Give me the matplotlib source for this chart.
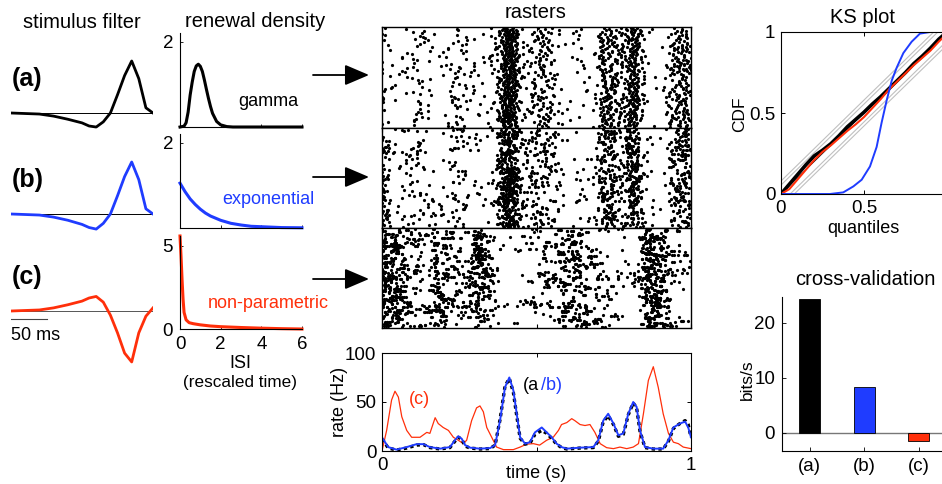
import numpy as np
import matplotlib
matplotlib.use('Agg')
import matplotlib.pyplot as plt

plt.rcParams['font.family'] = ['Liberation Sans', 'DejaVu Sans']

W, H = 942, 484
fig = plt.figure(figsize=(9.42, 4.84), dpi=100)
BLUE = '#1f3cff'
RED = '#ff2f0a'
FS_T, FS_TK, FS_L = 14.5, 13.5, 13

# ---------------- data ----------------
# stimulus filters (ms, arbitrary units)
filt_t = [0, 20, 40, 60, 80, 100, 110, 120, 130, 140, 150, 160, 170, 180, 190, 200]
filt_a = [0, -0.01, -0.02, -0.06, -0.12, -0.19, -0.25, -0.27, -0.17, 0.0, 0.35, 0.72, 1.0, 0.66, 0.10, 0.0]
filt_b = [0, -0.01, -0.02, -0.06, -0.12, -0.20, -0.26, -0.29, -0.18, 0.0, 0.35, 0.72, 1.0, 0.66, 0.10, 0.0]
filt_c = [0, 0.01, 0.02, 0.06, 0.12, 0.19, 0.25, 0.28, 0.17, -0.08, -0.42, -0.81, -0.98, -0.42, -0.10, 0.06]
scalebar_ms = 50

# renewal densities (ISI in rescaled time)
gam_x = [0, 0.2, 0.3, 0.4, 0.5, 0.6, 0.7, 0.8, 0.9, 1.0, 1.1, 1.2, 1.3, 1.4, 1.5, 1.6, 1.8, 2.0, 2.3, 2.6, 3, 4, 5, 6]
gam_f = [0, 0.02, 0.1, 0.35, 0.75, 1.05, 1.3, 1.43, 1.47, 1.42, 1.3, 1.1, 0.88, 0.67, 0.48, 0.32, 0.13, 0.05, 0.01, 0, 0, 0, 0, 0]
exp_x = [0, 0.25, 0.5, 0.75, 1, 1.25, 1.5, 2, 2.5, 3, 3.5, 4, 5, 6]
exp_f = [1.05, 0.85, 0.68, 0.55, 0.44, 0.35, 0.28, 0.18, 0.11, 0.07, 0.04, 0.03, 0.01, 0.005]
np_x = [0, 0.05, 0.1, 0.15, 0.2, 0.3, 0.45, 0.65, 1.0, 1.5, 2, 3, 4, 5, 6]
np_f = [5.6, 4.4, 3.0, 1.8, 1.0, 0.55, 0.38, 0.32, 0.25, 0.18, 0.14, 0.09, 0.05, 0.02, 0.0]

# predicted rates (s, Hz)
t_c = [0, 0.015, 0.031, 0.042, 0.053, 0.064, 0.08, 0.096, 0.123, 0.145, 0.155, 0.172, 0.182, 0.198,
       0.215, 0.231, 0.247, 0.263, 0.274, 0.29, 0.306, 0.317, 0.328, 0.339, 0.355, 0.371, 0.393, 0.425,
       0.447, 0.468, 0.49, 0.51, 0.533, 0.554, 0.571, 0.581, 0.598, 0.614, 0.624, 0.641, 0.657, 0.673,
       0.689, 0.706, 0.727, 0.749, 0.77, 0.792, 0.813, 0.83, 0.846, 0.862, 0.878, 0.894, 0.91, 0.927,
       0.943, 0.959, 0.975, 1.0]
r_c = [0, 21, 52, 61, 55, 35, 21, 14, 14, 19, 18, 34, 28, 24, 21, 14, 11, 7.5, 11, 31, 44, 46, 40, 24,
       14, 4, 1.4, 1.4, 4, 7, 7.5, 6, 11, 14, 21, 27, 29, 33, 31, 27, 26, 27, 19, 7.5, 3.4, 2.4, 4, 2.4,
       4, 7.5, 38, 72, 86, 65, 38, 18, 9, 7.5, 4, 2.4]
t_ab = [0, 0.01, 0.02, 0.047, 0.08, 0.112, 0.134, 0.155, 0.188, 0.22, 0.236, 0.247, 0.258, 0.269, 0.285,
        0.317, 0.35, 0.366, 0.382, 0.398, 0.412, 0.425, 0.436, 0.447, 0.463, 0.479, 0.495, 0.517, 0.533,
        0.549, 0.565, 0.581, 0.598, 0.641, 0.684, 0.7, 0.716, 0.732, 0.749, 0.765, 0.781, 0.797, 0.813,
        0.824, 0.835, 0.851, 0.878, 0.91, 0.927, 0.943, 0.964, 0.981, 0.991, 1.0]
r_b = [14, 9, 4, 1.4, 4, 7, 7, 4, 2.4, 4, 11, 15, 12.5, 6, 3.4, 2.4, 3, 6, 31, 65, 75, 62, 38, 14, 7.5,
       9, 19, 24, 19, 14, 7.5, 4, 2.4, 3.4, 4, 11, 31, 38, 28, 16, 18, 38, 50, 45, 21, 4, 2.4, 2.4, 11,
       24, 28, 30, 24, 14]
r_a = [12, 8, 3, 1, 3, 6, 6.5, 3.5, 2, 3.5, 10, 14, 12, 5, 3, 2, 2.5, 6, 32, 66, 74, 60, 36, 13, 7,
       8, 17, 21, 18, 13, 7, 3.5, 2, 3, 3.5, 10, 30, 36, 27, 15, 17, 37, 49, 44, 20, 3.5, 2, 2, 10,
       23, 28, 31, 27, 14]

# KS plot
ks_q = [0, .05, .1, .15, .2, .25, .3, .35, .4, .45, .5, .55, .6, .65, .7, .75, .8, .85, .9, .95, 1]
ks_a = [0, .06, .12, .18, .235, .27, .31, .36, .415, .46, .505, .555, .60, .65, .70, .75, .805, .85, .90, .955, 1.0]
ks_c = [0, .03, .09, .15, .21, .26, .30, .345, .39, .43, .475, .53, .585, .645, .695, .745, .795, .84, .885, .94, .99]
ks_bq = [0, 0.295, 0.375, 0.436, 0.486, 0.536, 0.576, 0.606, 0.637, 0.667, 0.697, 0.737, 0.787, 0.837, 0.898, 0.918]
ks_b = [0, 0, 0.01, 0.047, 0.088, 0.17, 0.29, 0.44, 0.58, 0.70, 0.78, 0.87, 0.94, 0.99, 1.0, 1.0]
ks_bands = [0.055, 0.08]

# cross-validation
cv_labels = ['(a)', '(b)', '(c)']
cv_vals = [24.4, 8.4, -1.5]
cv_colors = ['black', BLUE, RED]

n_trials = 100


def pax(x0, y0, x1, y1):
    return fig.add_axes([x0 / W, 1 - y1 / H, (x1 - x0) / W, (y1 - y0) / H])


def ftext(x, y, s, **kw):
    fig.text(x / W, 1 - y / H, s, **kw)


# ---------------- stimulus filters ----------------
ftext(81.5, 28, 'stimulus filter', ha='center', va='baseline', fontsize=FS_T)
for vals, base, col, bcol, lab in [(filt_a, 113, 'black', 'black', '(a)'),
                                   (filt_b, 214, BLUE, 'black', '(b)'),
                                   (filt_c, 311, RED, '#555555', '(c)')]:
    ax = pax(11, base - 62, 153, base + 55)
    ax.set_xlim(0, 200)
    ax.set_ylim(-55 / 52, 62 / 52)
    ax.axhline(0, color=bcol, lw=0.7)
    ax.plot(filt_t, vals, color=col, lw=2.0)
    ax.axis('off')
    ftext(12, base - 34, lab, ha='left', va='center', fontsize=18, fontweight='bold')
    if lab == '(c)':
        ax.plot([0, scalebar_ms], [-0.154, -0.154], color='#444444', lw=0.8)
        ax.text(0, -0.30, f'{scalebar_ms} ms', ha='left', va='top', fontsize=FS_L)

# ---------------- renewal densities ----------------
ftext(255, 27, 'renewal density', ha='center', va='baseline', fontsize=FS_T)
ren = [(gam_x, gam_f, 'black', (33, 127), 2.2, [2], 'gamma', 102),
       (exp_x, exp_f, BLUE, (134, 228), 2.2, [2], 'exponential', 200),
       (np_x, np_f, RED, (236, 329), 5.6, [0, 5], 'non-parametric', 303)]
for i, (x, f, col, (y0, y1), ytop, yt, name, ly) in enumerate(ren):
    ax = pax(180, y0, 302, y1)
    ax.set_xlim(0, 6)
    ax.set_ylim(0, ytop)
    ax.plot(x, f, color=col, lw=2.2, clip_on=False)
    for s in ['top', 'right']:
        ax.spines[s].set_visible(False)
    for s in ['left', 'bottom']:
        ax.spines[s].set_linewidth(0.8)
    ax.set_yticks(yt)
    ax.set_xticks([0, 2, 4, 6])
    ax.tick_params(direction='in', length=2.5, width=0.6, labelsize=FS_TK, pad=5)
    if i < 2:
        ax.set_xticklabels([])
    ax.patch.set_visible(False)
    ftext(268, ly, name, ha='center', va='center', fontsize=FS_L, color=col)
ftext(240, 364, 'ISI', ha='center', va='center', fontsize=FS_L)
ftext(240, 383, '(rescaled time)', ha='center', va='center', fontsize=12.3)

# arrows
for y in [75, 177, 279]:
    fig.add_artist(matplotlib.patches.FancyArrowPatch(
        (313 / W, 1 - y / H), (369 / W, 1 - y / H), transform=fig.transFigure,
        arrowstyle='-|>,head_length=0.75,head_width=0.32', mutation_scale=20,
        color='black', lw=1.3, shrinkA=0, shrinkB=0))


# ---------------- rasters ----------------
def hash_u(n):
    """Deterministic hash of an integer index into [0, 1)."""
    v = np.sin(n * 12.9898 + 4.1414) * 43758.5453
    return v - np.floor(v)


def raster_spikes(t_rate, r_rate, isi_x, isi_f, ntr, offset):
    """Spike trains by time-rescaling of the rate, ISIs from the tabulated renewal density."""
    tg = np.linspace(0, 1, 4001)
    lam = np.interp(tg, t_rate, r_rate)
    Lam = np.concatenate([[0], np.cumsum((lam[1:] + lam[:-1]) / 2 * np.diff(tg))])
    x = np.asarray(isi_x, float)
    f = np.asarray(isi_f, float) + 1e-4
    cdf = np.concatenate([[0], np.cumsum((f[1:] + f[:-1]) / 2 * np.diff(x))])
    cdf = cdf / cdf[-1]
    mean = np.trapezoid(x * f, x) / np.trapezoid(f, x)
    ts, tr = [], []
    n = offset
    for j in range(ntr):
        n += 1
        s = hash_u(n) * np.interp(hash_u(n + 0.5), cdf, x) / mean
        while s < Lam[-1]:
            ts.append(np.interp(s, Lam, tg))
            tr.append(j + 1)
            n += 1
            s += np.interp(hash_u(n), cdf, x) / mean
    return np.array(ts), np.array(tr)


ftext(536, 18, 'rasters', ha='center', va='baseline', fontsize=FS_T)
rboxes = [(27, 128), (128, 228), (228, 328)]
rsets = [(t_ab, r_a, gam_x, gam_f), (t_ab, r_b, exp_x, exp_f), (t_c, r_c, np_x, np_f)]
for k, ((y0, y1), (tt, rr, ix, iff)) in enumerate(zip(rboxes, rsets)):
    ax = pax(382, y0, 691, y1)
    st, sr = raster_spikes(tt, rr, ix, iff, n_trials, 1000 + 7919 * k)
    ax.plot(st, sr, 'o', ms=2.3, mew=0, color='black')
    ax.set_xlim(0, 1)
    ax.set_ylim(0, n_trials + 1)
    ax.set_xticks([0, 0.5, 1])
    ax.set_yticks([])
    ax.set_xticklabels([])
    ax.tick_params(direction='in', length=3, width=0.8, top=True)
    for s in ax.spines.values():
        s.set_linewidth(1.0)

# ---------------- rate plot ----------------
ax = pax(382, 353, 691, 451)
ax.plot(t_c, r_c, color=RED, lw=0.9)
ax.plot(t_ab, r_a, color='black', lw=2.4, ls=(0, (1, 1)))
ax.plot(t_ab, r_b, color=BLUE, lw=1.4)
ax.set_xlim(0, 1)
ax.set_ylim(0, 100)
ax.set_xticks([0, 0.5, 1])
ax.set_xticklabels(['0', '', '1'])
ax.set_yticks([0, 50, 100])
ax.tick_params(direction='in', length=3, width=0.7, top=True, right=True, labelsize=FS_TK, pad=4)
for s in ax.spines.values():
    s.set_linewidth(0.8)
ftext(536, 473, 'time (s)', ha='center', va='center', fontsize=FS_L)
ftext(340, 402, 'rate (Hz)', ha='center', va='center', rotation=90, fontsize=FS_L)
ftext(539, 385, '(a', ha='right', va='center', fontsize=FS_L)
ftext(541, 385, '/b)', ha='left', va='center', fontsize=FS_L, color=BLUE)
ftext(419, 400, '(c)', ha='center', va='center', fontsize=FS_L, color=RED)

# ---------------- KS plot ----------------
ftext(863, 23, 'KS plot', ha='center', va='baseline', fontsize=FS_T)
ax = pax(781, 32, 947, 194)
qq = np.array([0, 1])
for b in ks_bands:
    ax.plot(qq, qq + b, color='#c0c0c0', lw=0.8)
    ax.plot(qq, qq - b, color='#c0c0c0', lw=0.8)
ax.plot(qq, qq, color='black', lw=0.6)
ax.plot(ks_q, ks_a, color='black', lw=2.6)
ax.plot(ks_q, ks_c, color=RED, lw=1.5)
ax.plot(ks_bq, ks_b, color=BLUE, lw=1.4)
ax.set_xlim(0, 1)
ax.set_ylim(0, 1)
ax.set_xticks([0, 0.5, 1])
ax.set_yticks([0, 0.5, 1])
ax.set_xticklabels(['0', '0.5', '1'])
ax.set_yticklabels(['0', '0.5', '1'])
ax.tick_params(direction='in', length=3, width=0.7, top=True, right=True, labelsize=FS_TK, pad=4)
for s in ax.spines.values():
    s.set_linewidth(0.8)
ftext(740, 114, 'CDF', ha='center', va='center', rotation=90, fontsize=12.5)
ftext(863, 229, 'quantiles', ha='center', va='center', fontsize=FS_L)

# ---------------- cross-validation ----------------
ftext(865, 285, 'cross-validation', ha='center', va='baseline', fontsize=FS_T)
ax = pax(782, 297, 946, 451)
pos = np.arange(1, len(cv_vals) + 1)
ax.axhline(0, color='#777777', lw=1.0, zorder=1)
ax.bar(pos, cv_vals, width=0.39, color=cv_colors, edgecolor='black', linewidth=0.6, zorder=2)
ax.set_xlim(0.49, 3.5)
ax.set_ylim(-3.3, 24.7)
ax.set_xticks(pos)
ax.set_xticklabels(cv_labels)
ax.set_yticks([0, 10, 20])
for s in ['top', 'right']:
    ax.spines[s].set_visible(False)
for s in ['left', 'bottom']:
    ax.spines[s].set_linewidth(0.8)
ax.tick_params(direction='in', length=3, width=0.6, labelsize=FS_TK, pad=5)
ftext(747, 380, 'bits/s', ha='center', va='center', rotation=90, fontsize=12.5)

fig.savefig('out.png', dpi=100)
